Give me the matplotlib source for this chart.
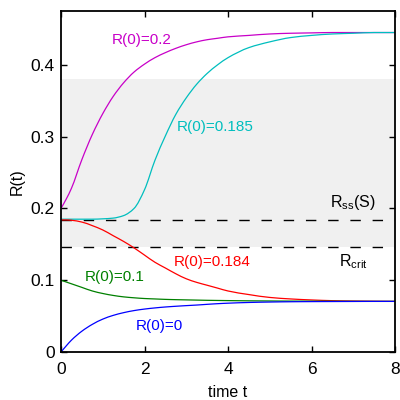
import matplotlib
matplotlib.use("Agg")
import matplotlib.pyplot as plt
from matplotlib.path import Path
from matplotlib.patches import PathPatch
import numpy as np

plt.rcParams['font.family'] = ['Liberation Sans', 'DejaVu Sans']
plt.rcParams['mathtext.default'] = 'regular'

# time grid
t = [0, 0.125, 0.25, 0.5, 0.75, 1.0, 1.25, 1.5, 1.75, 2.0, 2.25, 2.5, 2.75,
     3.0, 3.25, 3.5, 3.75, 4.0, 4.5, 5.0, 5.5, 6.0, 6.5, 7.0, 7.5, 8.0]

r_02 = [0.200, 0.213, 0.228, 0.268, 0.303, 0.332, 0.356, 0.375, 0.390, 0.401,
        0.410, 0.417, 0.423, 0.428, 0.432, 0.435, 0.437, 0.439, 0.441, 0.443,
        0.444, 0.4445, 0.445, 0.445, 0.445, 0.445]
r_0185 = [0.185, 0.185, 0.185, 0.185, 0.185, 0.1855, 0.1865, 0.190, 0.200,
          0.226, 0.267, 0.301, 0.331, 0.354, 0.373, 0.388, 0.400, 0.410,
          0.424, 0.432, 0.438, 0.441, 0.443, 0.444, 0.445, 0.445]
r_0184 = [0.184, 0.184, 0.1835, 0.181, 0.176, 0.170, 0.162, 0.154, 0.145,
          0.135, 0.125, 0.117, 0.109, 0.102, 0.097, 0.093, 0.089, 0.085,
          0.080, 0.076, 0.0739, 0.0725, 0.0715, 0.071, 0.0707, 0.0705]
r_01 = [0.100, 0.0975, 0.095, 0.090, 0.085, 0.0815, 0.0788, 0.0768, 0.0755,
        0.0745, 0.0739, 0.0733, 0.0729, 0.0726, 0.0723, 0.0720, 0.0718,
        0.0716, 0.0713, 0.0711, 0.0709, 0.0708, 0.0707, 0.0706, 0.0705, 0.0705]
r_0 = [0.0, 0.0085, 0.0165, 0.0290, 0.0385, 0.0458, 0.0510, 0.0548, 0.0577,
       0.0598, 0.0614, 0.0627, 0.0637, 0.0646, 0.0654, 0.0664, 0.0673, 0.0680,
       0.0690, 0.0696, 0.0700, 0.0702, 0.0703, 0.0704, 0.0705, 0.0705]

r_ss = 0.1845
r_crit = 0.1468
band_top = 0.3805

series = [
    (r_02, '#C800C8', 'R(0)=0.2', 1.94, 0.435),
    (r_0185, '#00BEBE', 'R(0)=0.185', 3.7, 0.314),
    (r_0184, '#FF0000', 'R(0)=0.184', 3.62, 0.125),
    (r_01, '#008000', 'R(0)=0.1', 1.29, 0.104),
    (r_0, '#0000FF', 'R(0)=0', 2.35, 0.036),
]


def smooth_path(x, y):
    """Bezier path through the points with monotone (Fritsch-Carlson) tangents."""
    x = np.asarray(x, float)
    y = np.asarray(y, float)
    h = np.diff(x)
    d = np.diff(y) / h
    m = np.zeros_like(y)
    m[0], m[-1] = d[0], d[-1]
    for i in range(1, len(y) - 1):
        if d[i - 1] * d[i] <= 0:
            m[i] = 0.0
        else:
            w1 = 2 * h[i] + h[i - 1]
            w2 = h[i] + 2 * h[i - 1]
            m[i] = (w1 + w2) / (w1 / d[i - 1] + w2 / d[i])
    verts = [(x[0], y[0])]
    codes = [Path.MOVETO]
    for i in range(len(x) - 1):
        verts += [(x[i] + h[i] / 3, y[i] + m[i] * h[i] / 3),
                  (x[i + 1] - h[i] / 3, y[i + 1] - m[i + 1] * h[i] / 3),
                  (x[i + 1], y[i + 1])]
        codes += [Path.CURVE4] * 3
    return Path(verts, codes)


fig = plt.figure(figsize=(4, 4), dpi=100)
ax = fig.add_axes([0.1525, 0.12, 0.835, 0.8525])

ax.axhspan(r_crit, band_top, color='#F0F0F0', zorder=0, lw=0)
for y in (r_ss, r_crit):
    ax.plot([0, 8], [y, y], color='black', lw=1.0, dashes=(7.5, 8.5), zorder=1)

for vals, col, lab, tx, ty in series:
    ax.add_patch(PathPatch(smooth_path(t, vals), facecolor='none',
                           edgecolor=col, lw=0.9, zorder=2))
    ax.text(tx, ty, lab, color=col, fontsize=11, ha='center', va='center')

ax.text(7.0, 0.2026, '$R_{ss}(S)$', fontsize=11.5, ha='center', va='baseline')
ax.text(7.0, 0.1199, '$R_{crit}$', fontsize=11.5, ha='center', va='baseline')

ax.set_xlim(0, 8)
ax.set_ylim(0, 0.475)
ax.set_xticks([0, 2, 4, 6, 8])
ax.set_yticks([0, 0.1, 0.2, 0.3, 0.4])
ax.set_xticklabels(['0', '2', '4', '6', '8'])
ax.set_yticklabels(['0', '0.1', '0.2', '0.3', '0.4'])
ax.tick_params(direction='in', top=True, right=True, length=4, width=1,
               labelsize=12.5)
ax.tick_params(axis='x', pad=7)
ax.tick_params(axis='y', pad=4.5)
for s in ax.spines.values():
    s.set_linewidth(1.3)

ax.set_xlabel('time t', fontsize=11.5, va='center')
ax.xaxis.set_label_coords(0.5, -0.118)
ax.set_ylabel('R(t)', fontsize=11.5, va='center')
ax.yaxis.set_label_coords(-0.132, 0.5)

fig.savefig('out.png', dpi=100)
